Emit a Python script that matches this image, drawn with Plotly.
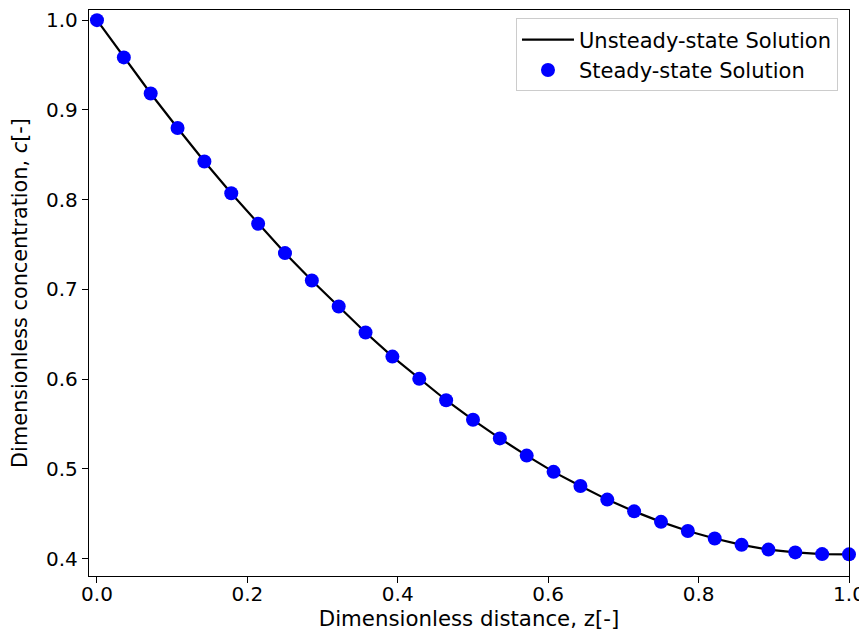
import plotly.graph_objects as go

# Dimensionless distance (29 collocation points, z = i/28)
z_points = [i / 28 for i in range(29)]

# Steady-state solution (markers)
c_steady = [1.000, 0.9585, 0.9183, 0.8799, 0.8426, 0.8071, 0.7732, 0.7405,
            0.7100, 0.6810, 0.6520, 0.6252, 0.6004, 0.5766, 0.5548, 0.5341,
            0.5149, 0.4968, 0.4810, 0.4659, 0.4528, 0.4411, 0.4309, 0.4226,
            0.4155, 0.4102, 0.4071, 0.4052, 0.4049]

# Unsteady-state solution (line)
z_line = z_points
c_unsteady = [1.000, 0.9585, 0.9183, 0.8799, 0.8426, 0.8071, 0.7732, 0.7405,
              0.7100, 0.6810, 0.6520, 0.6252, 0.6004, 0.5766, 0.5548, 0.5341,
              0.5149, 0.4968, 0.4810, 0.4659, 0.4528, 0.4411, 0.4309, 0.4226,
              0.4155, 0.4102, 0.4071, 0.4052, 0.4049]

x_ticks = [0.0, 0.2, 0.4, 0.6, 0.8, 1.0]
y_ticks = [0.4, 0.5, 0.6, 0.7, 0.8, 0.9, 1.0]

FONT = "DejaVu Sans"

fig = go.Figure()
fig.add_trace(go.Scatter(
    x=z_line, y=c_unsteady, mode="lines", name="Unsteady-state Solution",
    line=dict(color="black", width=2.2),
))
fig.add_trace(go.Scatter(
    x=z_points, y=c_steady, mode="markers", name="Steady-state Solution",
    marker=dict(color="#0000ff", size=14, line=dict(width=0)),
    cliponaxis=False,
))

axis_common = dict(
    showline=True, linecolor="black", linewidth=1.3, mirror=True,
    ticks="outside", ticklen=6, tickwidth=1.3, tickcolor="black",
    showgrid=False, zeroline=False, automargin=False,
    tickfont=dict(family=FONT, size=20, color="black"),
)

fig.update_xaxes(
    range=[-0.0106, 1.0], tickvals=x_ticks,
    ticktext=[f"{v:.1f}" for v in x_ticks],
    ticklabelstandoff=-6,
    title=dict(text="Dimensionless distance, z[-]",
               font=dict(family=FONT, size=21.3, color="black"), standoff=8),
    **axis_common,
)
fig.update_yaxes(
    range=[0.3808, 1.0113], tickvals=y_ticks,
    ticktext=[f"{v:.1f}" for v in y_ticks],
    title=dict(text="Dimensionless concentration, <i>c</i>[-]",
               font=dict(family=FONT, size=20.8, color="black"), standoff=13),
    **axis_common,
)

# The page body adds an 8 px margin, so the figure is 8 px smaller and
# its margins are trimmed by 8 px on the left and top.
fig.update_layout(
    width=859, height=623,
    margin=dict(l=81, r=18, t=2, b=55, autoexpand=False),
    paper_bgcolor="white", plot_bgcolor="white",
    font=dict(family=FONT, color="black"),
    legend=dict(
        x=0.9855, y=0.985, xanchor="right", yanchor="top",
        bgcolor="rgba(255,255,255,0.8)", bordercolor="#cccccc", borderwidth=1,
        font=dict(family=FONT, size=21, color="black"),
        itemwidth=52,
    ),
)

fig.write_html("out.html")
